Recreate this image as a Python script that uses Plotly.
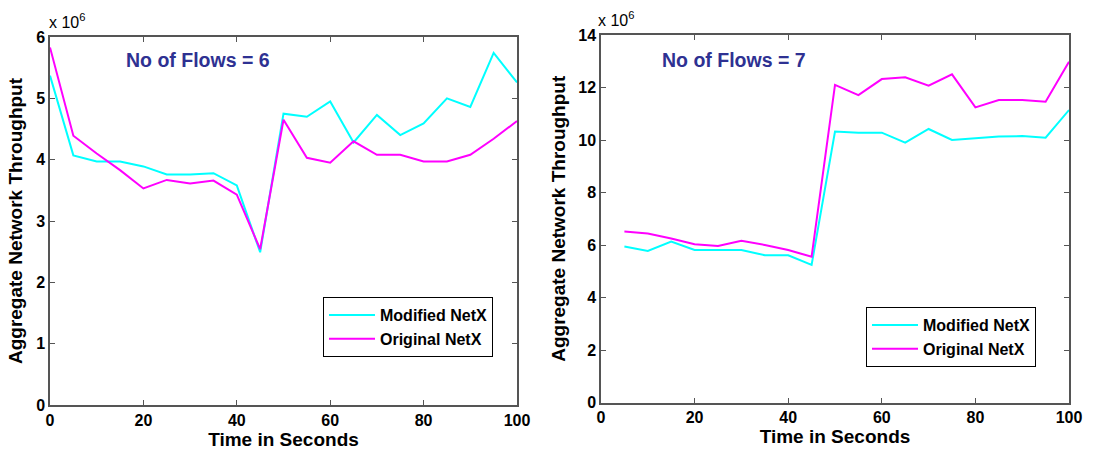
import plotly.graph_objects as go

# Time axis (seconds)
time_6 = [0, 5, 10, 15, 20, 25, 30, 35, 40, 45, 50, 55, 60, 65, 70, 75, 80, 85, 90, 95, 100]
time_7 = [5, 10, 15, 20, 25, 30, 35, 40, 45, 50, 55, 60, 65, 70, 75, 80, 85, 90, 95, 100]

# Aggregate network throughput, in units of 10^6
modified_6 = [5.37, 4.07, 3.97, 3.97, 3.89, 3.76, 3.76, 3.78, 3.58, 2.49, 4.75,
              4.70, 4.95, 4.28, 4.73, 4.40, 4.59, 5.00, 4.86, 5.74, 5.26]
original_6 = [5.83, 4.39, 4.10, 3.83, 3.53, 3.67, 3.61, 3.66, 3.43, 2.54, 4.65,
              4.03, 3.95, 4.30, 4.08, 4.08, 3.97, 3.97, 4.08, 4.34, 4.63]

modified_7 = [5.94, 5.77, 6.13, 5.81, 5.81, 5.81, 5.61, 5.61, 5.24, 10.32,
              10.28, 10.28, 9.90, 10.42, 10.00, 10.06, 10.13, 10.15, 10.09, 11.14]
original_7 = [6.51, 6.44, 6.25, 6.03, 5.96, 6.16, 6.00, 5.81, 5.55, 12.10,
              11.71, 12.32, 12.39, 12.07, 12.50, 11.24, 11.52, 11.52, 11.46, 12.98]

x_ticks = [0, 20, 40, 60, 80, 100]
y_ticks_6 = [0, 1, 2, 3, 4, 5, 6]
y_ticks_7 = [0, 2, 4, 6, 8, 10, 12, 14]

W, H = 1094, 455
CYAN = "#00FFFF"
MAGENTA = "#FF00FF"
AXIS_COLOR = "#555555"
TITLE_BLUE = "#2E3192"
FONT = "Liberation Sans, Arial, sans-serif"

fig = go.Figure()

fig.add_trace(go.Scatter(x=time_6, y=modified_6, mode="lines", name="Modified NetX",
                         line=dict(color=CYAN, width=2), xaxis="x", yaxis="y",
                         legend="legend"))
fig.add_trace(go.Scatter(x=time_6, y=original_6, mode="lines", name="Original NetX",
                         line=dict(color=MAGENTA, width=2), xaxis="x", yaxis="y",
                         legend="legend"))
fig.add_trace(go.Scatter(x=time_7, y=modified_7, mode="lines", name="Modified NetX",
                         line=dict(color=CYAN, width=2), xaxis="x2", yaxis="y2",
                         legend="legend2"))
fig.add_trace(go.Scatter(x=time_7, y=original_7, mode="lines", name="Original NetX",
                         line=dict(color=MAGENTA, width=2), xaxis="x2", yaxis="y2",
                         legend="legend2"))


def px_x(p):
    return p / W


def px_y(p):
    return 1 - p / H


tick_font = dict(family=FONT, size=16, color="black", weight="bold")
title_font = dict(family=FONT, size=19, color="black", weight="bold")

axis_common = dict(
    showline=True, linecolor=AXIS_COLOR, linewidth=1.5, mirror="ticks",
    ticks="inside", ticklen=5, tickwidth=1, tickcolor=AXIS_COLOR,
    showgrid=False, zeroline=False, tickfont=tick_font, fixedrange=True,
)

legend_common = dict(
    bgcolor="white", bordercolor="black", borderwidth=1,
    font=dict(family=FONT, size=16, color="black", weight="bold"),
    xanchor="left", yanchor="top", tracegroupgap=0, itemwidth=46,
)

fig.update_layout(
    width=W, height=H,
    margin=dict(l=0, r=0, t=0, b=0, autoexpand=False),
    paper_bgcolor="white", plot_bgcolor="white",
    xaxis=dict(domain=[px_x(50), px_x(517)], range=[0, 100], tickvals=x_ticks,
               anchor="y", title=dict(text="Time in Seconds", font=title_font, standoff=4),
               **axis_common),
    yaxis=dict(domain=[px_y(405), px_y(37)], range=[0, 6], tickvals=y_ticks_6,
               anchor="x", title=dict(text="Aggregate Network Throughput", font=title_font,
                                      standoff=8),
               **axis_common),
    xaxis2=dict(domain=[px_x(601), px_x(1069)], range=[0, 100], tickvals=x_ticks,
                anchor="y2", title=dict(text="Time in Seconds", font=title_font, standoff=4),
                **axis_common),
    yaxis2=dict(domain=[px_y(402.5), px_y(35)], range=[0, 14], tickvals=y_ticks_7,
                anchor="x2", title=dict(text="Aggregate Network Throughput", font=title_font,
                                        standoff=8),
                **axis_common),
    legend=dict(x=px_x(323), y=px_y(297), **legend_common),
    legend2=dict(x=px_x(866), y=px_y(307), **legend_common),
    showlegend=True,
)

annotations = [
    dict(text="No of Flows = 6", x=px_x(198), y=px_y(60), xref="paper", yref="paper",
         showarrow=False, xanchor="center", yanchor="middle",
         font=dict(family=FONT, size=19.5, color=TITLE_BLUE, weight="bold")),
    dict(text="No of Flows = 7", x=px_x(734), y=px_y(60), xref="paper", yref="paper",
         showarrow=False, xanchor="center", yanchor="middle",
         font=dict(family=FONT, size=19.5, color=TITLE_BLUE, weight="bold")),
    dict(text="x 10<sup>6</sup>", x=px_x(47), y=px_y(33), xref="paper", yref="paper",
         showarrow=False, xanchor="left", yanchor="bottom",
         font=dict(family=FONT, size=16, color="black")),
    dict(text="x 10<sup>6</sup>", x=px_x(596), y=px_y(31), xref="paper", yref="paper",
         showarrow=False, xanchor="left", yanchor="bottom",
         font=dict(family=FONT, size=16, color="black")),
]
fig.update_layout(annotations=annotations)

fig.write_html("out.html")
